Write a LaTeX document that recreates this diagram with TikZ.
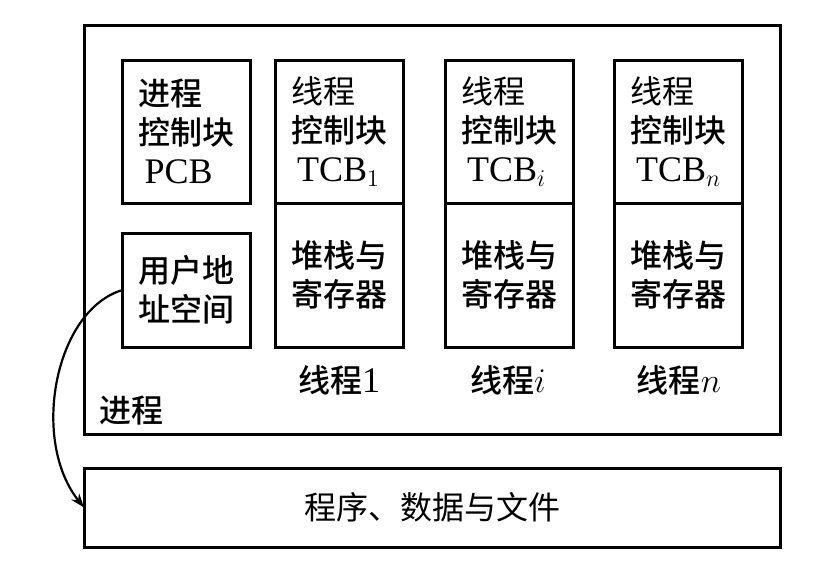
\documentclass[tikz,border=0pt]{standalone}
\usepackage{fontspec}
\setmainfont{Liberation Serif}
\newfontfamily\cjk{Noto Sans CJK SC}
\newfontfamily\cjkm{Noto Sans CJK SC Medium}
\usetikzlibrary{arrows.meta}
\newcommand*{\fsz}{\fontsize{16}{19.5}\selectfont}
\newcommand*{\lat}{\rmfamily\fontsize{18}{19.5}\selectfont}
\newcommand*{\bw }{64pt}
\newcommand*{\tcbh}{71.5pt}
\newcommand*{\stkh}{72pt}

\begin{document}
\begin{tikzpicture}[x=0.5pt, y=-0.5pt, font=\cjk\fsz,
    blk/.style={draw, line width=1.5pt, inner sep=0pt, outer sep=0pt, align=left, minimum width=\bw},
    bld/.style={font=\cjkm\fsz}]
    \useasboundingbox [fill=white] (0,0) rectangle (833,578);
    % process and files
    \node [blk, minimum width=348pt, minimum height=204.5pt] (proc) at (432,229.5) {};
    \node [blk, minimum width=348pt, minimum height=39.5pt] (files) at (432,507.5) {程序、数据与文件};
    % process control block and address space
    \node [blk, bld, minimum height=\tcbh] (pcb) at (186.5,131.5) {进程\\控制块\\{\lat\,PCB}};
    \node [blk, bld, minimum height=57pt] (uas) at (186.5,290) {用户地\\址空间};
    % threads
    \node [blk, minimum height=\tcbh] (tcb1) at (339,131.5) {线程\\{\cjkm 控制块}\\{\lat\,TCB$_1$}};
    \node [blk, bld, minimum height=\stkh, anchor=north] (stk1) at (tcb1.south) {堆栈与\\寄存器};
    \node [blk, minimum height=\tcbh] (tcbi) at (509,131.5) {线程\\{\cjkm 控制块}\\{\lat\,TCB$_i$}};
    \node [blk, bld, minimum height=\stkh, anchor=north] (stki) at (tcbi.south) {堆栈与\\寄存器};
    \node [blk, minimum height=\tcbh] (tcbn) at (678,131.5) {线程\\{\cjkm 控制块}\\{\lat\,TCB$_n$}};
    \node [blk, bld, minimum height=\stkh, anchor=north] (stkn) at (tcbn.south) {堆栈与\\寄存器};
    % labels
    \node [bld] (thr1) at (339,380) {线程{\lat 1}};
    \node [bld] (thri) at (508,380) {线程{\lat$i$}};
    \node [bld] (thrn) at (679,380) {线程{\lat$n$}};
    \node [bld] (plbl) at (131,411) {进程};
    % mapping of the address space
    \draw [line width=1.1pt, -{Stealth[length=7pt, width=5pt]}] (uas.west) .. controls (55,310) and (30,440) .. (files.west);
\end{tikzpicture}
\end{document}
